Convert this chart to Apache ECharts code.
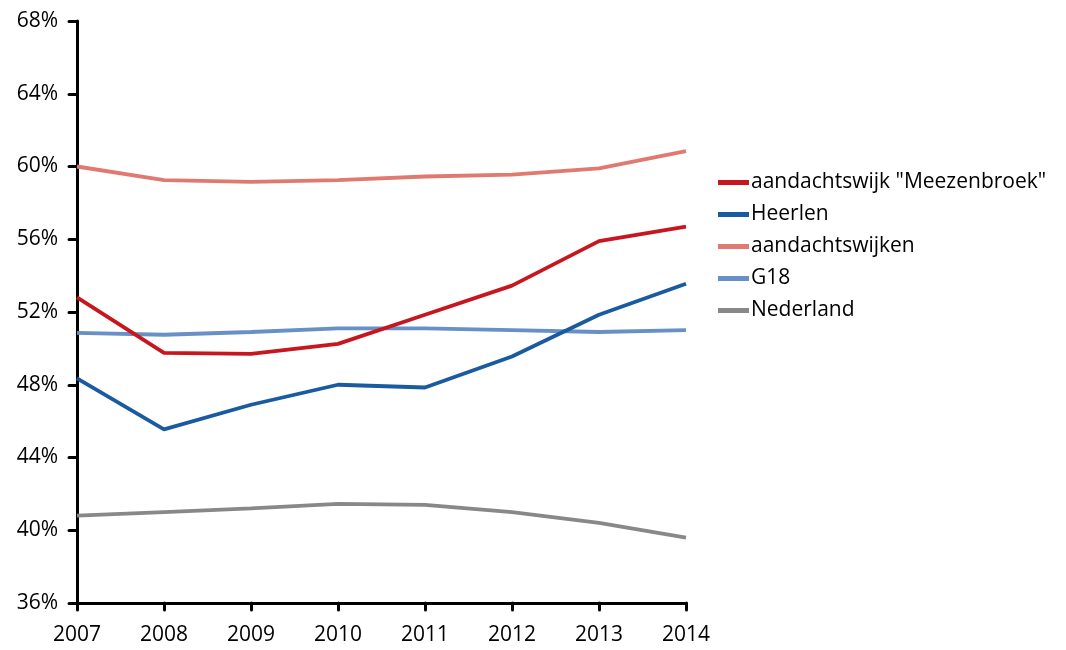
<!DOCTYPE html>
<html>
<head>
<meta charset="utf-8">
<script src="https://cdn.jsdelivr.net/npm/echarts@6/dist/echarts.min.js"></script>
<style>
html, body { margin: 0; padding: 0; background: #fff; }
#chart { width: 1066px; height: 650px; }
</style>
</head>
<body>
<div id="chart"></div>
<script>
var years = ['2007', '2008', '2009', '2010', '2011', '2012', '2013', '2014'];
var names = ['aandachtswijk "Meezenbroek"', 'Heerlen', 'aandachtswijken', 'G18', 'Nederland'];
var meezenbroek = [52.8, 49.75, 49.7, 50.25, 51.85, 53.45, 55.9, 56.7];
var heerlen = [48.35, 45.55, 46.9, 48.0, 47.85, 49.55, 51.85, 53.55];
var aandachtswijken = [60.0, 59.25, 59.15, 59.25, 59.45, 59.55, 59.9, 60.85];
var g18 = [50.85, 50.75, 50.9, 51.1, 51.1, 51.0, 50.9, 51.0];
var nederland = [40.8, 41.0, 41.2, 41.45, 41.4, 41.0, 40.4, 39.6];
var colors = ['#C8161E', '#1A5AA0', '#E07A70', '#6690C6', '#888888'];

var dom = document.getElementById('chart');
var chart = echarts.init(dom);
var fontName = '"Open Sans", "DejaVu Sans", sans-serif';

function makeSeries(name, data, i) {
	return {
		name: name,
		type: 'line',
		data: data,
		symbol: 'none',
		smooth: false,
		lineStyle: { width: 3.8, color: colors[i] },
		itemStyle: { color: colors[i] },
		z: 10 - i
	};
}

var option = {
	animation: false,
	color: colors,
	grid: { left: 77, right: 380, top: 21, bottom: 47 },
	legend: {
		orient: 'vertical',
		left: 713,
		top: 167,
		icon: 'rect',
		itemWidth: 31,
		itemHeight: 5,
		itemGap: 11,
		data: names,
		textStyle: { fontFamily: fontName, fontSize: 21, color: '#000', padding: [0, 0, 0, -3] }
	},
	xAxis: {
		type: 'category',
		data: years,
		boundaryGap: false,
		axisLine: { lineStyle: { color: '#000', width: 3 } },
		axisTick: { alignWithLabel: true, length: 7, lineStyle: { color: '#000', width: 3, cap: 'round' } },
		axisLabel: { fontFamily: fontName, fontSize: 21, color: '#000', margin: 22 },
		splitLine: { show: false }
	},
	yAxis: {
		type: 'value',
		min: 36,
		max: 68,
		interval: 4,
		axisLine: { show: true, lineStyle: { color: '#000', width: 3 } },
		axisTick: { show: true, length: 8, lineStyle: { color: '#000', width: 3, cap: 'round' } },
		axisLabel: { fontFamily: fontName, fontSize: 21, color: '#000', margin: 19,
			formatter: function (v) { return v + '%'; } },
		splitLine: { show: false }
	},
	series: [
		makeSeries(names[0], meezenbroek, 0),
		makeSeries(names[1], heerlen, 1),
		makeSeries(names[2], aandachtswijken, 2),
		makeSeries(names[3], g18, 3),
		makeSeries(names[4], nederland, 4)
	]
};

chart.setOption(option);
</script>
</body>
</html>
